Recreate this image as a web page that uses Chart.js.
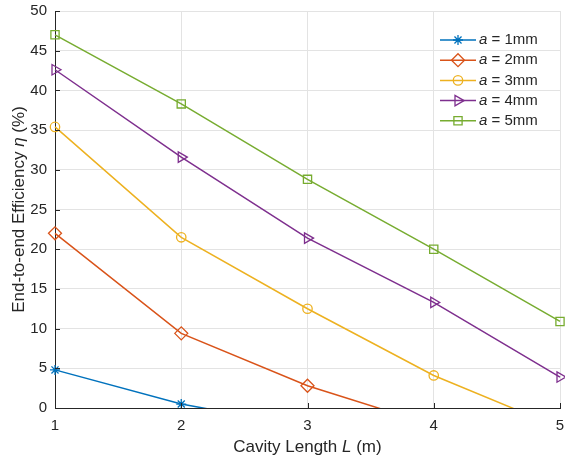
<!DOCTYPE html>
<html>
<head>
<meta charset="utf-8">
<script src="https://cdn.jsdelivr.net/npm/chart.js@4/dist/chart.umd.min.js"></script>
<style>
  html, body { margin: 0; padding: 0; background: #fff; }
  #wrap { width: 565px; height: 462px; }
</style>
</head>
<body>
<div id="wrap"><canvas id="effChart" width="565" height="462"></canvas></div>
<script>
// cavity length (m)
const cavityLength = [1, 2, 3, 4, 5];
// efficiency (%) for each aperture a; below-zero values are cut off by the axis
const eff1mm = [4.8, 0.5, -2.4, null, null];
const eff2mm = [22.0, 9.4, 2.8, -2.2, null];
const eff3mm = [35.4, 21.5, 12.5, 4.1, -2.5];
const eff4mm = [42.6, 31.6, 21.4, 13.3, 3.9];
const eff5mm = [47.0, 38.3, 28.8, 20.0, 10.9];
const seriesNames = ["1mm", "2mm", "3mm", "4mm", "5mm"];
const yTicks = [0, 5, 10, 15, 20, 25, 30, 35, 40, 45, 50];

const FONT = "'Liberation Sans', Arial, Helvetica, sans-serif";
const TEXT = "#262626";

function toPoints(vals) {
    const pts = [];
    for (let i = 0; i < cavityLength.length; i++) {
        if (vals[i] !== null) pts.push({ x: cavityLength[i], y: vals[i] });
    }
    return pts;
}

const styles = [
    { color: "#0072BD", pointStyle: "star", radius: 5, rotation: 0 },
    { color: "#D95319", pointStyle: "rectRot", radius: 6.5, rotation: 0 },
    { color: "#EDB120", pointStyle: "circle", radius: 4.7, rotation: 0 },
    { color: "#7E2F8E", pointStyle: "triangle", radius: 6, rotation: 90 },
    { color: "#77AC30", pointStyle: "rect", radius: 5.8, rotation: 0 }
];
const allSeries = [eff1mm, eff2mm, eff3mm, eff4mm, eff5mm];

const datasets = allSeries.map((vals, i) => ({
    label: "a = " + seriesNames[i],
    data: toPoints(vals),
    borderColor: styles[i].color,
    borderWidth: 1.5,
    pointStyle: styles[i].pointStyle,
    pointRotation: styles[i].rotation,
    pointRadius: styles[i].radius,
    pointBorderColor: styles[i].color,
    pointBackgroundColor: "rgba(0,0,0,0)",
    pointBorderWidth: 1.3,
    tension: 0,
    clip: { left: 12, top: 12, right: 12, bottom: 0 }
}));

// draws a run of text pieces, some of them italic, centred on (x, y)
function drawMixed(ctx, parts, size, x, y) {
    let total = 0;
    parts.forEach(p => {
        ctx.font = (p.italic ? "italic " : "") + size + "px " + FONT;
        p.w = ctx.measureText(p.text).width;
        total += p.w;
    });
    let cx = x - total / 2;
    ctx.textAlign = "left";
    ctx.textBaseline = "middle";
    parts.forEach(p => {
        ctx.font = (p.italic ? "italic " : "") + size + "px " + FONT;
        ctx.fillText(p.text, cx, y);
        cx += p.w;
    });
}

const decorPlugin = {
    id: "decor",
    afterDraw(chart) {
        const ctx = chart.ctx;
        const area = chart.chartArea;
        const xs = chart.scales.x;
        const ys = chart.scales.y;
        ctx.save();

        // inward tick marks
        ctx.strokeStyle = TEXT;
        ctx.lineWidth = 1;
        ctx.beginPath();
        yTicks.forEach(v => {
            const py = Math.round(ys.getPixelForValue(v)) + 0.5;
            ctx.moveTo(area.left, py);
            ctx.lineTo(area.left + 5, py);
        });
        cavityLength.forEach(v => {
            const px = Math.round(xs.getPixelForValue(v)) + 0.5;
            ctx.moveTo(px, area.bottom);
            ctx.lineTo(px, area.bottom - 5);
        });
        ctx.stroke();

        // axis titles
        ctx.fillStyle = TEXT;
        drawMixed(ctx, [{ text: "Cavity Length " }, { text: "L", italic: true }, { text: " (m)" }],
            17, (area.left + area.right) / 2, 447);
        ctx.save();
        ctx.translate(19, (area.top + area.bottom) / 2);
        ctx.rotate(-Math.PI / 2);
        drawMixed(ctx, [{ text: "End-to-end Efficiency " }, { text: "\u03B7", italic: true }, { text: " (%)" }],
            17, 0, 0);
        ctx.restore();

        // legend (transparent, no border) in the upper right corner
        const boxTop = 26, rowH = 20.2;
        allSeries.forEach((vals, i) => {
            const cy = boxTop + 14 + i * rowH;
            ctx.strokeStyle = styles[i].color;
            ctx.lineWidth = 1.5;
            ctx.beginPath();
            ctx.moveTo(440, cy);
            ctx.lineTo(476, cy);
            ctx.stroke();
            ctx.lineWidth = 1.3;
            ctx.fillStyle = "rgba(0,0,0,0)";
            Chart.helpers.drawPoint(ctx, {
                pointStyle: styles[i].pointStyle,
                rotation: styles[i].rotation,
                radius: styles[i].radius,
                borderWidth: 1.3
            }, 458, cy);
            ctx.fillStyle = TEXT;
            ctx.textAlign = "left";
            ctx.textBaseline = "middle";
            ctx.font = "italic 15px " + FONT;
            ctx.fillText("a", 479, cy);
            const aw = ctx.measureText("a").width;
            ctx.font = "15px " + FONT;
            ctx.fillText(" = " + seriesNames[i], 479 + aw, cy);
        });
        ctx.restore();
    }
};

const ctx = document.getElementById("effChart").getContext("2d");
const effChart = new Chart(ctx, {
    type: "line",
    data: { datasets: datasets },
    options: {
        responsive: false,
        animation: false,
        layout: { autoPadding: false, padding: { top: 11, right: 5, left: 0, bottom: 0 } },
        plugins: {
            legend: { display: false },
            tooltip: { enabled: false }
        },
        scales: {
            x: {
                type: "linear",
                min: 1,
                max: 5,
                afterFit: s => { s.height = 54; s.paddingLeft = 0; s.paddingRight = 0; },
                afterBuildTicks: s => { s.ticks = cavityLength.map(v => ({ value: v })); },
                ticks: { color: TEXT, padding: 9, font: { family: FONT, size: 15 } },
                grid: { color: "#e3e3e3", lineWidth: 1, drawTicks: false },
                border: { color: TEXT, width: 1 }
            },
            y: {
                type: "linear",
                min: 0,
                max: 50,
                afterFit: s => { s.width = 55; s.paddingTop = 0; s.paddingBottom = 0; },
                afterBuildTicks: s => { s.ticks = yTicks.map(v => ({ value: v })); },
                ticks: { color: TEXT, padding: 8, font: { family: FONT, size: 15 } },
                grid: { color: "#e3e3e3", lineWidth: 1, drawTicks: false },
                border: { color: TEXT, width: 1 }
            }
        }
    },
    plugins: [decorPlugin]
});
</script>
</body>
</html>
